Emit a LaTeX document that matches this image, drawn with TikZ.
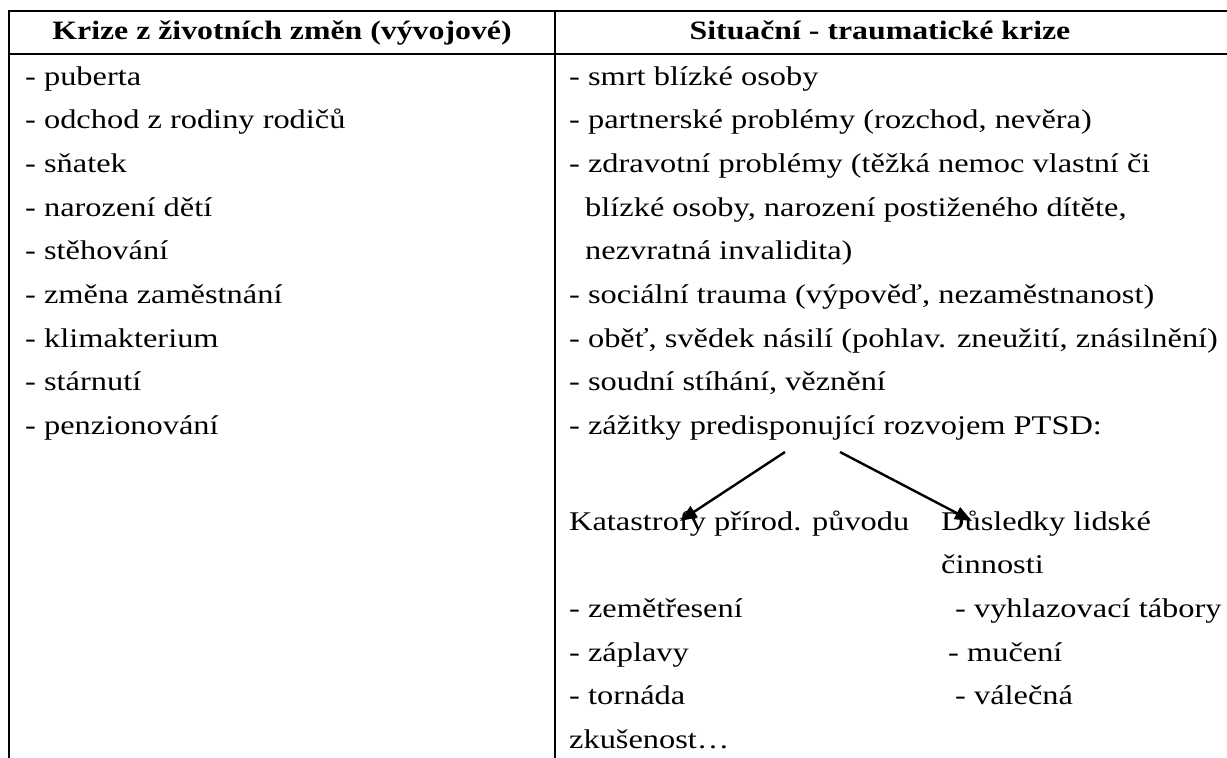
\documentclass[tikz,border=0pt]{standalone}
\usepackage{fontspec}
\setmainfont{Liberation Serif}[FakeStretch=1.2]
\usetikzlibrary{arrows.meta}
\begin{document}
\begin{tikzpicture}[x=1pt,y=-1pt,
  txt/.style={anchor=base west, inner sep=0pt, font=\fontsize{27}{32}\selectfont},
  hdr/.style={anchor=base, inner sep=0pt, font=\fontsize{26.5}{32}\selectfont\bfseries},
  rule/.style={line width=2pt},
  arr/.style={line width=2.4pt, -{Triangle[length=17pt,width=13pt]}}]
\useasboundingbox (0,0) rectangle (1227,758);
% table rules
\draw[rule] (9,11) -- (1227,11);
\draw[rule] (9,54) -- (1227,54);
\draw[rule] (9,10) -- (9,758);
\draw[rule] (555,10) -- (555,758);
% headers
\node[hdr] (h1) at (282,39) {Krize z životních změn (vývojové)};
\node[hdr] (h2) at (880,39) {Situační - traumatické krize};
% left column
\node[txt] (l1) at (25,85) {- puberta};
\node[txt] (l2) at (25,128.7) {- odchod z rodiny rodičů};
\node[txt] (l3) at (25,172.4) {- sňatek};
\node[txt] (l4) at (25,216.1) {- narození dětí};
\node[txt] (l5) at (25,259.8) {- stěhování};
\node[txt] (l6) at (25,303.5) {- změna zaměstnání};
\node[txt] (l7) at (25,347.2) {- klimakterium};
\node[txt] (l8) at (25,390.9) {- stárnutí};
\node[txt] (l9) at (25,434.6) {- penzionování};
% right column
\node[txt] (r1) at (569,85) {- smrt blízké osoby};
\node[txt] (r2) at (569,128.7) {- partnerské problémy (rozchod, nevěra)};
\node[txt] (r3) at (569,172.4) {- zdravotní problémy (těžká nemoc vlastní či};
\node[txt] (r4) at (585,216.1) {blízké osoby, narození postiženého dítěte,};
\node[txt] (r5) at (585,259.8) {nezvratná invalidita)};
\node[txt] (r6) at (569,303.5) {- sociální trauma (výpověď, nezaměstnanost)};
\node[txt] (r7) at (569,347.2) {- oběť, svědek násilí (pohlav. zneužití, znásilnění)};
\node[txt] (r8) at (569,390.9) {- soudní stíhání, věznění};
\node[txt] (r9) at (569,434.6) {- zážitky predisponující rozvojem PTSD:};
% sub-branches
\node[txt] (k1) at (569,530) {Katastrofy přírod. původu};
\node[txt] (d1) at (941,530) {Důsledky lidské};
\node[txt] (d2) at (941,573.7) {činnosti};
\node[txt] (k2) at (569,617.4) {- zemětřesení};
\node[txt] (k3) at (569,661.1) {- záplavy};
\node[txt] (k4) at (569,704.8) {- tornáda};
\node[txt] (k5) at (569,748.5) {zkušenost…};
\node[txt] (d3) at (955,617.4) {- vyhlazovací tábory};
\node[txt] (d4) at (948,661.1) {- mučení};
\node[txt] (d5) at (955,704.8) {- válečná};
% arrows
\coordinate (aL) at (785,452);
\coordinate (aR) at (840,452);
\coordinate (tL) at (680,521);
\coordinate (tR) at (972,521);
\draw[arr] (aL) -- (tL);
\draw[arr] (aR) -- (tR);
\end{tikzpicture}
\end{document}
